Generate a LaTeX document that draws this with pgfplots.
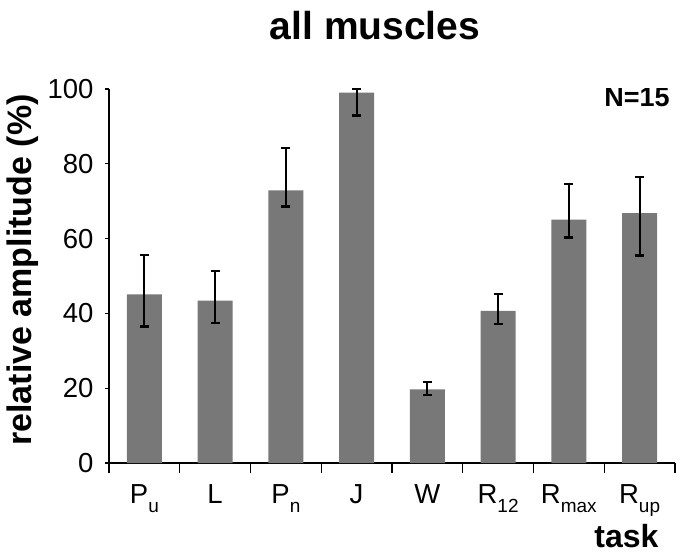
\documentclass[border=0pt]{standalone}
\usepackage{fontspec}
\setmainfont{Liberation Sans}
\usepackage{pgfplots}
\pgfplotsset{compat=1.18}
\usepackage{pgfplotstable}
\definecolor{barg}{RGB}{120,120,120}
\pgfplotstableread{
x y ep em
0 45.1 10.5 8.6
1 43.4 7.9 6.0
2 72.9 11.4 4.3
3 99.0 1.0 6.1
4 19.7 1.9 1.5
5 40.7 4.5 3.6
6 65.1 9.6 4.8
7 66.8 9.7 11.3
}\datatable
\newcommand{\sub}[1]{\raisebox{-9pt}{\fontsize{19}{20}\selectfont #1}}
\begin{document}
\begin{tikzpicture}
\useasboundingbox (-109pt,-91pt) rectangle (573pt,463pt);
\begin{axis}[
  at={(0,0)}, anchor=south west,
  scale only axis, width=566pt, height=374pt,
  xmin=-0.5, xmax=7.5, ymin=0, ymax=100,
  axis lines=left, axis line style={-, line width=1.4pt},
  tick align=outside, tick pos=left,
  major tick length=4pt,
  tick style={black, line width=1.4pt},
  xtick={-0.5,0.5,...,7.5},
  x tick label as interval,
  xtick style={/pgfplots/major tick length=10pt},
  xticklabels={P\sub{u},L,P\sub{n},J,W,R\sub{12},R\sub{max},R\sub{up}},
  ytick={0,20,...,100},
  /pgf/number format/assume math mode=true,
  ticklabel style={font=\fontsize{27.5}{30}\selectfont},
  xticklabel style={anchor=base, yshift=-36pt},
  yticklabel style={xshift=-8pt},
  title={all muscles},
  title style={at={(axis description cs:0.47,1.115)}, anchor=base, font=\fontsize{39}{44}\selectfont\bfseries},
  xlabel={task},
  xlabel style={at={(axis description cs:0.977,-0.225)}, anchor=base east, font=\fontsize{32}{36}\selectfont\bfseries},
  ylabel={relative amplitude (\%)},
  ylabel style={at={(axis description cs:-0.152,0.516)}, anchor=center, font=\fontsize{34}{38}\selectfont\bfseries},
]
\addplot[ybar, bar width=0.495, fill=barg, draw=none,
  error bars/.cd, y dir=both, y explicit,
  error bar style={black, line width=2.2pt},
  error mark options={black, rotate=90, mark size=4.5pt, line width=2.2pt}]
  table[x=x, y=y, y error plus=ep, y error minus=em] {\datatable};
\node[anchor=base east, font=\fontsize{27}{30}\selectfont\bfseries] at (axis description cs:0.997,0.952) {N=15};
\end{axis}
\end{tikzpicture}
\end{document}
